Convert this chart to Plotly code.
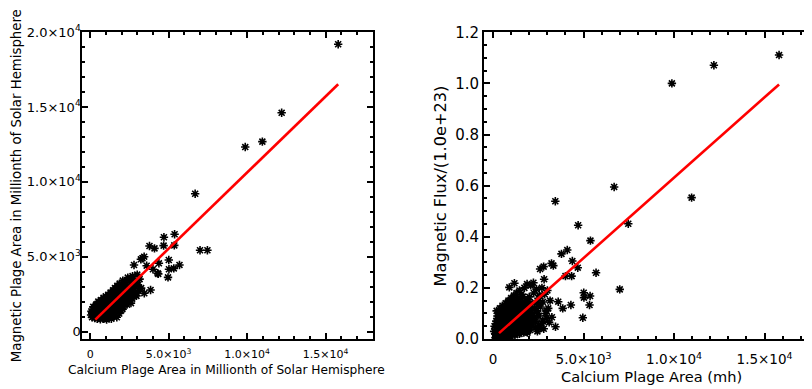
import plotly.graph_objects as go

# ---------------- data ----------------
# Calcium plage area (shared x), magnetic plage area (left y), magnetic flux /1e23 (right y)
ca_area = [15800, 12200, 10970, 9880, 6690, 7000, 7470, 5380, 5360, 5690, 5330, 5010, 5020, 4960,
           4700, 4680, 4380, 4300, 4340, 4100, 4000, 3780, 3850, 3600, 3440, 3450, 3230, 3330, 2950,
           2794, 2600, 2820, 2600, 2500, 1180, 900, 2230,
           60, 80, 120, 150, 180, 200, 230, 260, 300, 320, 350, 380, 400, 420, 450, 480, 500, 520, 550,
           580, 600, 620, 650, 680, 700, 720, 750, 780, 800, 830, 850, 870, 900, 930, 950, 980, 1000,
           1020, 1050, 1080, 1100, 1130, 1150, 1180, 1200, 1230, 1260, 1300, 1320, 1350, 1380, 1400,
           1430, 1460, 1490, 1520, 1550, 1580, 1600, 1640, 1680, 1700, 1730, 1760, 1790, 1820, 1850,
           1880, 1910, 1940, 1970, 2000, 2040, 2080, 2120, 2160, 2200, 2250, 2300, 2350, 2400, 2450,
           2500, 2560, 2620, 2700, 2750, 2850, 2900, 3000, 3050, 3150, 3250, 2680, 2800, 2050, 2600,
           250, 350, 450, 550, 650, 750, 850, 950, 1050, 1150, 1250, 1350, 1450, 1550, 1650, 1750,
           130, 170, 210, 270, 310, 360, 410, 460, 510, 560, 610, 660, 710, 760, 810, 860, 910, 960,
           1010, 1060, 1110, 1160, 1210, 1260, 1310, 1360, 1410, 1460, 1510, 1560, 1610, 1660, 1710,
           1760, 1810, 1860, 1920, 2020, 2150, 2280, 2330, 2750, 1900, 2450, 2950, 3100,
           190, 240, 290, 340, 390, 440, 490, 540, 590, 640, 690, 740, 790, 840, 890, 940, 990, 1040,
           1090, 1140, 1190, 1240, 1290, 1340, 1390, 1440, 1490, 1540, 1590, 1640, 1690, 1740, 1790,
           1840, 1890, 1950, 2060, 2180, 2230, 2380, 2480, 2540,
           760, 900, 1050, 1200, 1350, 1500, 1650, 1550, 1300, 950]
mag_area = [19200, 14620, 12690, 12330, 9210, 5430, 5430, 6500, 5760, 4450, 4220, 4780, 4160, 3620,
            6300, 5740, 4560, 3890, 3850, 5560, 4160, 5715, 2775, 4400, 5000, 2554, 4826, 4900, 2380,
            4446, 3500, 3200, 2700, 2500, 1900, 1700, 3300,
            1100, 1350, 950, 1200, 1450, 1650, 1050, 1300, 900, 1550, 1150, 1800, 1000, 1400, 850, 1650,
            1250, 2000, 950, 1500, 1100, 1850, 820, 1300, 2100, 1600, 1000, 1950, 1400, 850, 2250, 1700,
            1150, 1900, 900, 1550, 2350, 1250, 800, 2100, 1750, 1050, 2450, 1400, 900, 2000, 1650, 2600,
            1150, 850, 2250, 1850, 1350, 2750, 1000, 2100, 1600, 2900, 1200, 2400, 1850, 950, 3050,
            1450, 2200, 2650, 1200, 3200, 1750, 2450, 1400, 2900, 2100, 3400, 1650, 2650, 1950, 3100,
            2350, 1800, 3600, 2750, 2150, 3300, 2500, 3700, 2900, 3400, 2600, 3800, 3100, 3500, 2900,
            2200, 2400, 1500, 1900,
            1200, 1000, 1300, 1150, 1550, 1250, 1450, 1700, 1400, 1900, 1600, 2000, 1800, 2300, 2100,
            2500,
            1250, 1000, 1150, 1400, 1200, 1500, 1250, 1750, 1050, 1650, 1350, 1750, 1200, 1800, 1100,
            1500, 1650, 1300, 1850, 1450, 2000, 1650, 1300, 2100, 1550, 2400, 1700, 1250, 2300, 1900,
            2600, 1500, 2300, 1950, 2800, 1650, 2150, 2450, 2250, 2800, 2100, 2550, 1440, 2300, 3100,
            2700,
            1100, 1350, 1000, 1300, 1150, 1500, 1200, 1400, 1250, 1550, 1100, 1450, 1250, 1650, 1350,
            1750, 1450, 1600, 1300, 1850, 1550, 1750, 1400, 1950, 1500, 2050, 1700, 2200, 1800, 2000,
            1650, 2500, 1800, 2350, 2000, 2650, 2300, 2550, 2000, 2600, 2900, 2400,
            1600, 1750, 1900, 2000, 2150, 2300, 2450, 2100, 1900, 1700]
mag_flux = [1.111, 1.071, 0.553, 1.000, 0.595, 0.194, 0.451, 0.385, 0.168, 0.259, 0.133, 0.181, 0.162,
            0.083, 0.445, 0.279, 0.305, 0.133, 0.246, 0.348, 0.246, 0.333, 0.120, 0.146, 0.539, 0.048,
            0.296, 0.287, 0.081, 0.283, 0.274, 0.234, 0.166, 0.055, 0.218, 0.202, 0.220,
            0.030, 0.050, 0.020, 0.045, 0.070, 0.110, 0.030, 0.060, 0.015, 0.090, 0.040, 0.120, 0.025,
            0.065, 0.018, 0.100, 0.050, 0.130, 0.022, 0.075, 0.035, 0.110, 0.015, 0.055, 0.140, 0.085,
            0.028, 0.120, 0.060, 0.018, 0.150, 0.090, 0.040, 0.105, 0.020, 0.070, 0.160, 0.045, 0.016,
            0.125, 0.095, 0.030, 0.170, 0.060, 0.022, 0.110, 0.080, 0.180, 0.040, 0.020, 0.130, 0.100,
            0.055, 0.190, 0.030, 0.115, 0.075, 0.175, 0.045, 0.140, 0.090, 0.025, 0.200, 0.060, 0.120,
            0.150, 0.040, 0.215, 0.085, 0.130, 0.050, 0.165, 0.105, 0.210, 0.065, 0.140, 0.090, 0.180,
            0.120, 0.070, 0.195, 0.150, 0.100, 0.170, 0.125, 0.200, 0.145, 0.175, 0.100, 0.190, 0.120,
            0.150, 0.085, 0.060, 0.040, 0.035, 0.042,
            0.080, 0.030, 0.055, 0.010, 0.045, 0.070, 0.035, 0.080, 0.065, 0.100, 0.050, 0.090, 0.060,
            0.110, 0.070, 0.130,
            0.005, 0.012, 0.008, 0.025, 0.005, 0.010, 0.035, 0.030, 0.008, 0.040, 0.012, 0.050, 0.020,
            0.045, 0.008, 0.035, 0.060, 0.012, 0.055, 0.025, 0.070, 0.035, 0.015, 0.065, 0.030, 0.085,
            0.045, 0.020, 0.080, 0.050, 0.100, 0.035, 0.070, 0.055, 0.110, 0.030, 0.060, 0.075, 0.050,
            0.085, 0.045, 0.070, 0.025, 0.030, 0.110, 0.065,
            0.060, 0.090, 0.075, 0.100, 0.055, 0.085, 0.115, 0.095, 0.060, 0.105, 0.075, 0.095, 0.110,
            0.075, 0.100, 0.120, 0.090, 0.105, 0.075, 0.115, 0.090, 0.100, 0.060, 0.105, 0.075, 0.120,
            0.090, 0.130, 0.065, 0.110, 0.080, 0.140, 0.095, 0.125, 0.075, 0.145, 0.100, 0.120, 0.080,
            0.110, 0.135, 0.090,
            0.135, 0.140, 0.145, 0.150, 0.155, 0.160, 0.165, 0.140, 0.135, 0.130]

# linear fits (slope, intercept) and the x span they are drawn over
fit_left = [1.0174, 455.0]
fit_right = [6.29e-5, 0.0022]
fit_x_span = [330, 15800]

x_tickvals = [0, 5000, 10000, 15000]
x_ticktext = ["0", "5.0×10<sup>3</sup>", "1.0×10<sup>4</sup>", "1.5×10<sup>4</sup>"]
yl_tickvals = [0, 5000, 10000, 15000, 20000]
yl_ticktext = ["0", "5.0×10<sup>3</sup>", "1.0×10<sup>4</sup>", "1.5×10<sup>4</sup>", "2.0×10<sup>4</sup>"]

left_xtitle = "Calcium Plage Area in Millionth of Solar Hemisphere"
left_ytitle = "Magnetic Plage Area in Millionth of Solar Hemisphere"
right_xtitle = "Calcium Plage Area (mh)"
right_ytitle = "Magnetic Flux/(1.0e+23)"

# ---------------- figure ----------------
# the page body has an 8px margin, so the figure is 8px smaller on each side
OFF = 8
W, H = 812 - OFF, 389 - OFF
FONT = "DejaVu Sans"

def px_x(p):
    return (p - OFF) / W

def px_y(p):
    return 1 - (p - OFF) / H

fit_left_y = [fit_left[0] * v + fit_left[1] for v in fit_x_span]
fit_right_y = [fit_right[0] * v + fit_right[1] for v in fit_x_span]

marker = dict(symbol="asterisk-open", size=7, color="black", line=dict(color="black", width=1.6))

fig = go.Figure()
fig.add_trace(go.Scatter(x=ca_area, y=mag_area, mode="markers", marker=marker,
                         xaxis="x", yaxis="y", showlegend=False, hoverinfo="skip"))
fig.add_trace(go.Scatter(x=fit_x_span, y=fit_left_y, mode="lines",
                         line=dict(color="#ff0000", width=2.6),
                         xaxis="x", yaxis="y", showlegend=False, hoverinfo="skip"))
fig.add_trace(go.Scatter(x=ca_area, y=mag_flux, mode="markers", marker=marker,
                         xaxis="x2", yaxis="y2", showlegend=False, hoverinfo="skip"))
fig.add_trace(go.Scatter(x=fit_x_span, y=fit_right_y, mode="lines",
                         line=dict(color="#ff0000", width=2.6),
                         xaxis="x2", yaxis="y2", showlegend=False, hoverinfo="skip"))

common = dict(showgrid=False, zeroline=False, showline=True, linecolor="black", linewidth=2,
              ticks="inside", tickcolor="black", tickwidth=2, ticklen=6, automargin=False)
minor_x = dict(ticks="inside", ticklen=3, tickwidth=1.5, tickcolor="black", dtick=1000, showgrid=False)

fig.update_layout(
    width=W, height=H,
    margin=dict(l=0, r=0, t=0, b=0),
    paper_bgcolor="white", plot_bgcolor="white",
    font=dict(family=FONT, color="black"),
    xaxis=dict(domain=[px_x(82.3), px_x(372.7)], range=[-500, 18000], anchor="y",
               tickvals=x_tickvals, ticktext=x_ticktext, mirror="allticks",
               tickfont=dict(size=11, family=FONT), minor=minor_x, ticklabelstandoff=4, **common),
    yaxis=dict(domain=[px_y(339), px_y(32.3)], range=[-500, 20000], anchor="x",
               tickvals=yl_tickvals, ticktext=yl_ticktext, mirror="allticks",
               tickfont=dict(size=13, family=FONT),
               minor=dict(ticks="inside", ticklen=3, tickwidth=1.5, tickcolor="black", dtick=1000, showgrid=False),
               ticklabelstandoff=-3, **common),
    xaxis2=dict(domain=[px_x(484), 1.0], range=[-500, 17620], anchor="y2",
                tickvals=x_tickvals, ticktext=x_ticktext, mirror="allticks",
                tickfont=dict(size=13.5, family=FONT), minor=minor_x, ticklabelstandoff=7, **common),
    yaxis2=dict(domain=[px_y(339), px_y(32.3)], range=[0, 1.2], anchor="x2",
                dtick=0.2, tickformat=".1f", mirror=False,
                tickfont=dict(size=15, family=FONT),
                minor=dict(ticks="inside", ticklen=3, tickwidth=1.5, tickcolor="black", dtick=0.05, showgrid=False),
                ticklabelstandoff=0, **common),
    annotations=[
        dict(text=left_xtitle, x=px_x(226.7), y=px_y(370), xref="paper", yref="paper",
             showarrow=False, xanchor="center", yanchor="middle", font=dict(size=12.2, family=FONT)),
        dict(text=left_ytitle, x=px_x(16.7), y=px_y(185.5), xref="paper", yref="paper", textangle=-90,
             showarrow=False, xanchor="center", yanchor="middle", font=dict(size=13.3, family=FONT)),
        dict(text=right_xtitle, x=px_x(651.7), y=px_y(376.7), xref="paper", yref="paper",
             showarrow=False, xanchor="center", yanchor="middle", font=dict(size=14.6, family=FONT)),
        dict(text=right_ytitle, x=px_x(440), y=px_y(186.5), xref="paper", yref="paper", textangle=-90,
             showarrow=False, xanchor="center", yanchor="middle", font=dict(size=16.2, family=FONT)),
    ],
)

fig.write_html("out.html")
